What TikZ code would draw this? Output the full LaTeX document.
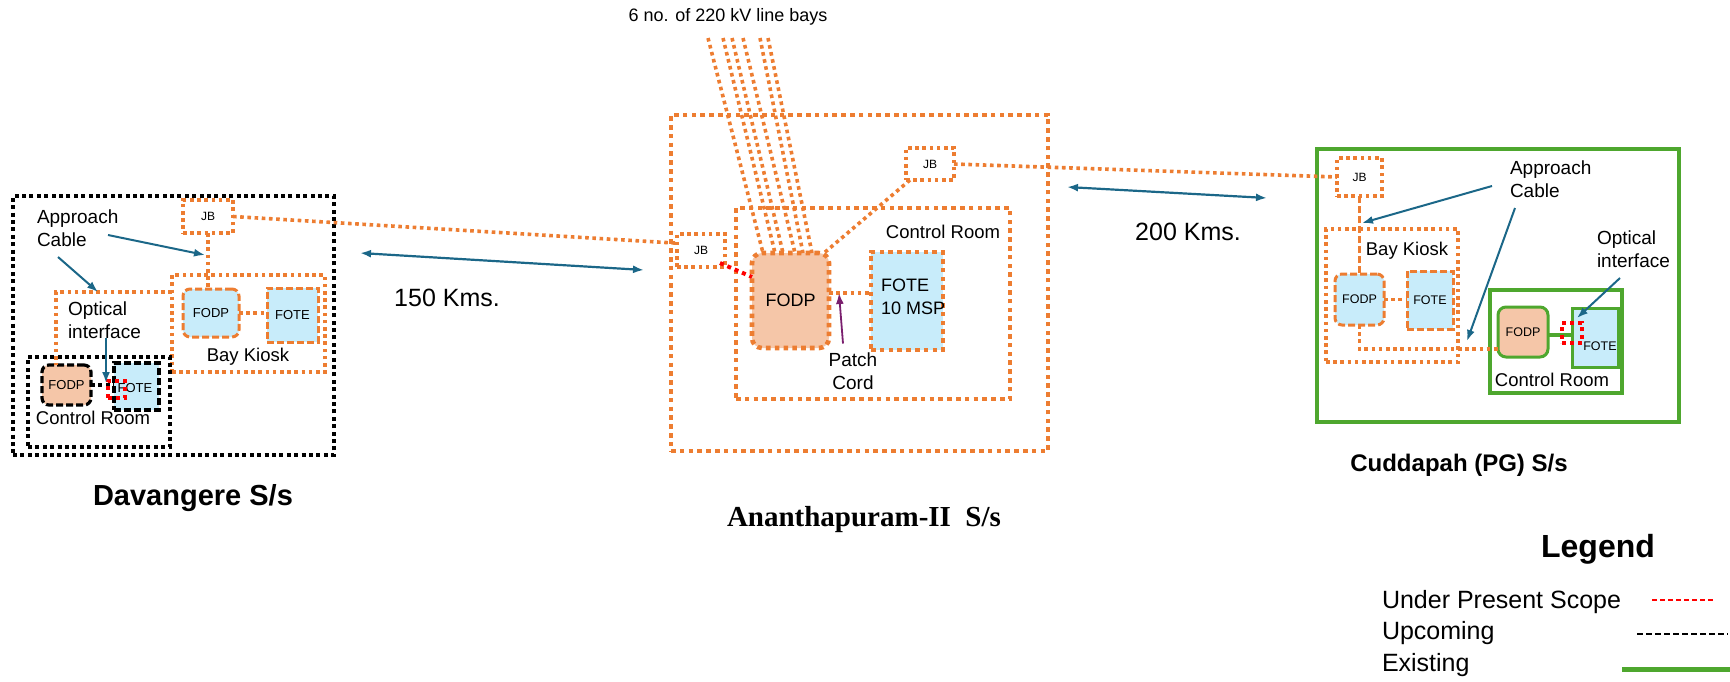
\documentclass[tikz,border=0pt]{standalone}
\usepackage{fontspec}
\setmainfont{Liberation Sans}
\newfontfamily\titleserif{Liberation Serif}
\usetikzlibrary{arrows.meta,calc}
\definecolor{orng}{HTML}{ED7D31}
\definecolor{lblue}{HTML}{C8ECFA}
\definecolor{peach}{HTML}{F5C6A8}
\definecolor{grn}{HTML}{4EA72E}
\definecolor{tealb}{HTML}{1B6788}
\definecolor{purp}{HTML}{7A1F6E}
\newcommand{\myfs}[2]{\fontsize{#1pt}{#2pt}\selectfont}
\begin{document}
\begin{tikzpicture}[x=1pt,y=-1pt,
  every node/.style={inner sep=0pt,outer sep=0pt},
  nw/.style={anchor=north west},
  odot/.style={draw=orng,line width=3.6pt,dash pattern=on 3.6pt off 3.6pt},
  odotw/.style={draw=orng,line width=4.6pt,dash pattern=on 4.6pt off 4.2pt},
  bdot/.style={draw=black,line width=4.2pt,dash pattern=on 4pt off 3.4pt},
  odash/.style={draw=orng,line width=3pt,dash pattern=on 7pt off 3pt},
  bdash/.style={draw=black,line width=3.2pt,dash pattern=on 7pt off 3pt},
  gsolid/.style={draw=grn,line width=4.8pt},
  rdot/.style={draw=red,line width=4pt,dash pattern=on 4pt off 4pt},
  tarr/.style={draw=tealb,line width=2pt,-{Latex[length=11pt,width=8pt]}},
  tdarr/.style={draw=tealb,line width=2.2pt,{Latex[length=11pt,width=8pt]}-{Latex[length=11pt,width=8pt]}},
  parr/.style={draw=purp,line width=1.8pt,-{Latex[length=11pt,width=8pt]}},
  lbl/.style={font=\myfs{19}{23},align=left},
  small/.style={font=\myfs{13}{15}},
  tiny/.style={font=\myfs{12}{14}},
  mid/.style={font=\myfs{18.5}{22}}
]
\useasboundingbox (0,0) rectangle (1730,681);

% ================= Davangere =================
\node[bdot,nw,minimum width=321pt,minimum height=259pt] (dav) at (13,196) {};
\node[odot,nw,minimum width=153pt,minimum height=97pt] (dbk) at (172,275) {};
\node[mid] (dbklbl) at (248,357) {Bay Kiosk};
\node[odot,nw,minimum width=50pt,minimum height=33pt,tiny] (djb) at (183,200) {JB};
\draw[odot] (djb.south) -- (djb.south |- 0,289);
\node[odash,fill=lblue,rounded corners=7pt,nw,minimum width=56pt,minimum height=48pt,small] (dfodp) at (183,289) {FODP};
\node[odash,fill=lblue,nw,minimum width=51pt,minimum height=54pt,small] (dfote) at (267,288) {FOTE};
\draw[odot] (dfodp.east) -- (dfodp.east -| dfote.west);
\node[bdot,nw,minimum width=142pt,minimum height=90pt] (dcr) at (28,357) {};
\node[mid] (dcrlbl) at (93,418) {Control Room};
\node[bdash,fill=peach,rounded corners=7pt,nw,minimum width=49pt,minimum height=40pt,small] (dcfodp) at (42,365) {FODP};
\node[bdash,fill=lblue,nw,minimum width=45pt,minimum height=47pt] (dcfote) at (114,363) {};
\node[small] (dcfotelbl) at (135,388) {FOTE};
\draw[bdot] (dcfodp.east) -- (dcfodp.east -| dcfote.west);
\node[rdot,nw,minimum width=17pt,minimum height=17pt] (dred) at (108,381) {};
\draw[odot] ([yshift=-17pt]dbk.north west) -| ([xshift=14pt]dcfodp.north west);
\node[lbl,anchor=west] (dac) at (37,228.5) {Approach\\Cable};
\coordinate (dacA1) at (108,235); \coordinate (dacA2) at (205,255);
\coordinate (dacB1) at (58,257);  \coordinate (dacB2) at (98,292);
\draw[tarr] (dacA1) -- (dacA2);
\draw[tarr] (dacB1) -- (dacB2);
\node[lbl,anchor=west] (doi) at (68,320) {Optical\\interface};
\coordinate (doiA) at (106,383);
\draw[tarr] (doi.south -| doiA) -- (doiA);
\node[font=\bfseries\myfs{29}{34}] (davt) at (193,498) {Davangere S/s};

% ================= Ananthapuram =================
\node[odotw,nw,minimum width=377pt,minimum height=336pt] (ana) at (671,115) {};
\node[odotw,nw,minimum width=274pt,minimum height=191pt] (acr) at (736,208) {};
\node[mid] (acrlbl) at (943,232) {Control Room};
\node[odotw,fill=peach,rounded corners=10pt,nw,minimum width=77pt,minimum height=95pt,font=\myfs{18}{22}] (afodp) at (752,253) {FODP};
\node[odotw,fill=lblue,nw,minimum width=72pt,minimum height=98pt] (afote) at (871,252) {};
\node[font=\myfs{18}{22},anchor=west] (afote1) at (881,285) {FOTE};
\node[font=\myfs{18}{22},anchor=west] (afote2) at (881,308) {10 MSP};
\draw[odot] ([yshift=-40pt]afodp.north east) -- ([yshift=-40pt]afodp.north east -| afote.west);
\node[font=\myfs{19}{23},align=center] (pc) at (853,371) {Patch\\Cord};
\coordinate (pcend) at (839,293);
\draw[parr] ([xshift=-10pt,yshift=9pt]pc.north) -- (pcend);
\node[odot,nw,minimum width=48pt,minimum height=33pt,tiny] (ajbl) at (677,234) {JB};
\node[odot,nw,minimum width=48pt,minimum height=32pt,tiny] (ajbr) at (906,148) {JB};
\draw[rdot] ([xshift=-5pt,yshift=4pt]ajbl.south east) -- ([yshift=-24pt]afodp.north west);
\draw[odot] ([xshift=4pt]ajbr.south west) -- ([xshift=-5pt]afodp.north east);
\node[font=\myfs{18}{22}] (bayslbl) at (728,17) {6 no. of 220 kV line bays};
\coordinate (bay1) at (708,38); \coordinate (bay2) at (723,38);
\coordinate (bay3) at (732,38); \coordinate (bay4) at (743,38);
\coordinate (bay5) at (760,38); \coordinate (bay6) at (768,38);
\draw[odot] (bay1) -- ([xshift=11pt]afodp.north west);
\draw[odot] (bay2) -- ([xshift=23pt]afodp.north west);
\draw[odot] (bay3) -- ([xshift=31pt]afodp.north west);
\draw[odot] (bay4) -- ([xshift=43pt]afodp.north west);
\draw[odot] (bay5) -- ([xshift=51pt]afodp.north west);
\draw[odot] (bay6) -- ([xshift=60pt]afodp.north west);
\node[font=\titleserif\bfseries\myfs{29}{34}] (anat) at (864,520) {Ananthapuram-II\ \ S/s};

% links between stations
\draw[odot] (djb.east) -- (ajbl.163);
\coordinate (k1a) at (360,253); \coordinate (k1b) at (644,270);
\draw[tdarr] (k1a) -- (k1b);
\node[font=\myfs{25}{30}] (k1) at (447,298) {150 Kms.};
\coordinate (k2a) at (1067,187); \coordinate (k2b) at (1267,198);
\draw[tdarr] (k2a) -- (k2b);
\node[font=\myfs{25}{30}] (k2) at (1188,232) {200 Kms.};

% ================= Cuddapah =================
\node[gsolid,nw,minimum width=362pt,minimum height=273pt] (cud) at (1317,149) {};
\node[odot,nw,minimum width=132pt,minimum height=133pt] (cbk) at (1326,229) {};
\node[mid] (cbklbl) at (1407,251) {Bay Kiosk};
\node[odot,nw,minimum width=45pt,minimum height=38pt,tiny] (cjb) at (1337,158) {JB};
\draw[odot] (ajbr.east) -- (cjb.west);
\draw[odash] (cjb.south) -- (cjb.south |- 0,274);
\node[odash,fill=lblue,rounded corners=7pt,nw,minimum width=49pt,minimum height=51pt,font=\myfs{12.5}{15}] (cfodp) at (1335,274) {FODP};
\node[odash,fill=lblue,nw,minimum width=46pt,minimum height=58pt,font=\myfs{12.5}{15}] (cfote) at (1407,271) {FOTE};
\draw[odot] (cfodp.east) -- (cfodp.east -| cfote.west);
\node[gsolid,nw,minimum width=132pt,minimum height=103pt] (ccr) at (1490,290) {};
\node[mid] (ccrlbl) at (1552,380) {Control Room};
\node[draw=grn,line width=3pt,fill=peach,rounded corners=8pt,nw,minimum width=50pt,minimum height=50pt,font=\myfs{12.5}{15}] (ccfodp) at (1498,307) {FODP};
\node[draw=grn,line width=3pt,fill=lblue,nw,minimum width=46pt,minimum height=59pt] (ccfote) at (1572,308) {};
\node[font=\myfs{12.5}{15}] (ccfotelbl) at (1600,346) {FOTE};
\draw[draw=grn,line width=4pt] ([yshift=-3pt]ccfodp.east) -- ([yshift=-3pt]ccfodp.east -| ccfote.west);
\node[rdot,nw,minimum width=20pt,minimum height=20pt] (cred) at (1562,323) {};
\draw[odot] (cfodp.south) |- ([yshift=-17pt]ccfodp.west);
\node[lbl,anchor=west] (cac) at (1510,179) {Approach\\Cable};
\coordinate (cacA1) at (1492,186); \coordinate (cacA2) at (1362,223);
\coordinate (cacB1) at (1515,208); \coordinate (cacB2) at (1467,341);
\draw[tarr] (cacA1) -- (cacA2);
\draw[tarr] (cacB1) -- (cacB2);
\node[lbl,anchor=west] (coi) at (1597,249) {Optical\\interface};
\coordinate (coiA1) at (1620,278); \coordinate (coiA2) at (1577,318);
\draw[tarr] (coiA1) -- (coiA2);
\node[font=\bfseries\myfs{24}{28}] (cudt) at (1459,465) {Cuddapah (PG) S/s};

% ================= Legend =================
\node[font=\bfseries\myfs{32}{38}] (leg) at (1598,549) {Legend};
\node[font=\myfs{25}{30},anchor=west] (lg1) at (1382,602) {Under Present Scope};
\node[font=\myfs{25}{30},anchor=west] (lg2) at (1382,633) {Upcoming};
\node[font=\myfs{25}{30},anchor=west] (lg3) at (1382,665) {Existing};
\coordinate (lr1) at (1652,600); \coordinate (lr2) at (1713,600);
\coordinate (lb1) at (1637,634); \coordinate (lb2) at (1728,634);
\coordinate (lgn1) at (1622,669); \coordinate (lgn2) at (1730,669);
\draw[red,line width=1.5pt,dash pattern=on 5pt off 3pt] (lr1) -- (lr2);
\draw[black,line width=1.3pt,dash pattern=on 6pt off 3pt] (lb1) -- (lb2);
\draw[grn,line width=5pt] (lgn1) -- (lgn2);
\end{tikzpicture}
\end{document}
